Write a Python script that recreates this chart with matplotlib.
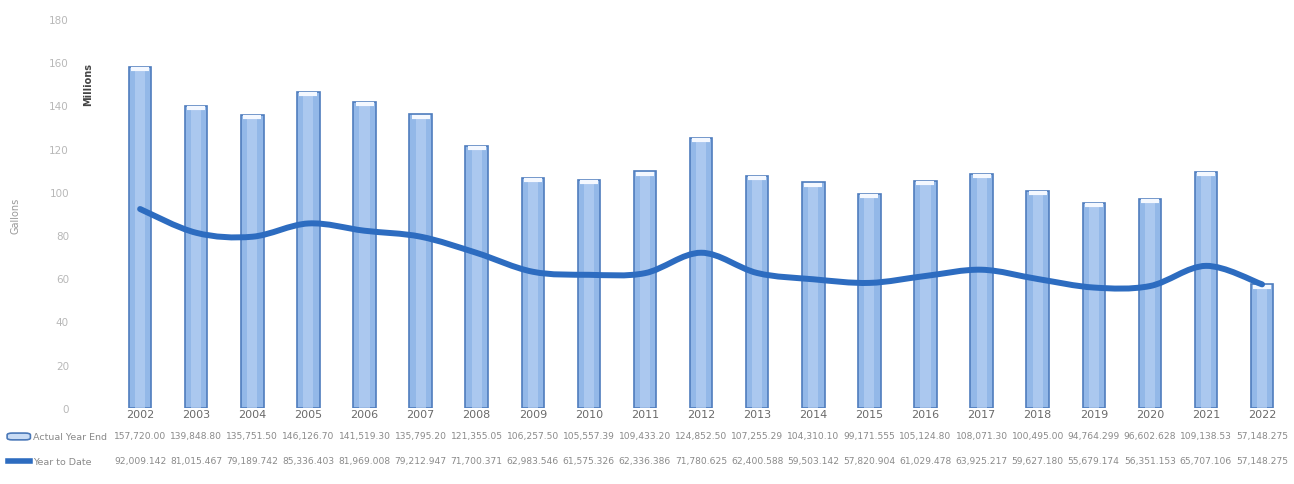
import numpy as np
import matplotlib
matplotlib.use("Agg")
from matplotlib import pyplot as plt
from matplotlib.path import Path
from matplotlib.patches import PathPatch, FancyBboxPatch
from matplotlib.lines import Line2D

years = ["2002", "2003", "2004", "2005", "2006", "2007", "2008", "2009", "2010", "2011",
         "2012", "2013", "2014", "2015", "2016", "2017", "2018", "2019", "2020", "2021", "2022"]

# thousands of gallons
actual_year_end = [157720.00, 139848.80, 135751.50, 146126.70, 141519.30, 135795.20, 121355.05,
                   106257.50, 105557.39, 109433.20, 124852.50, 107255.29, 104310.10, 99171.555,
                   105124.80, 108071.30, 100495.00, 94764.299, 96602.628, 109138.53, 57148.275]
year_to_date = [92009.142, 81015.467, 79189.742, 85336.403, 81969.008, 79212.947, 71700.371,
                62983.546, 61575.326, 62336.386, 71780.625, 62400.588, 59503.142, 57820.904,
                61029.478, 63925.217, 59627.180, 55679.174, 56351.153, 65707.106, 57148.275]

actual_labels = ["157,720.00", "139,848.80", "135,751.50", "146,126.70", "141,519.30", "135,795.20",
                 "121,355.05", "106,257.50", "105,557.39", "109,433.20", "124,852.50", "107,255.29",
                 "104,310.10", "99,171.555", "105,124.80", "108,071.30", "100,495.00", "94,764.299",
                 "96,602.628", "109,138.53", "57,148.275"]
ytd_labels = ["92,009.142", "81,015.467", "79,189.742", "85,336.403", "81,969.008", "79,212.947",
              "71,700.371", "62,983.546", "61,575.326", "62,336.386", "71,780.625", "62,400.588",
              "59,503.142", "57,820.904", "61,029.478", "63,925.217", "59,627.180", "55,679.174",
              "56,351.153", "65,707.106", "57,148.275"]

y_ticks = [0, 20, 40, 60, 80, 100, 120, 140, 160, 180]

BAR_FACE = "#93b8e8"
BAR_EDGE = "#4f7dbd"
LINE_COLOR = "#2d6cc0"
TEXT_GREY = "#8a8a8a"


def smooth_path(x, y):
    # Catmull-Rom style bezier through every point, like a spreadsheet "smoothed line"
    pts = np.column_stack([x, y])
    n = len(pts)
    verts = [pts[0]]
    codes = [Path.MOVETO]
    for i in range(n - 1):
        p0 = pts[i - 1] if i > 0 else pts[i]
        p1 = pts[i]
        p2 = pts[i + 1]
        p3 = pts[i + 2] if i + 2 < n else pts[i + 1]
        c1 = p1 + (p2 - p0) / 6.0
        c2 = p2 - (p3 - p1) / 6.0
        verts += [c1, c2, p2]
        codes += [Path.CURVE4] * 3
    return Path(verts, codes)


def main():
    plt.rcParams["font.family"] = ["DejaVu Sans"]
    fig = plt.figure(figsize=(12.94, 4.85), dpi=100)
    ax = fig.add_axes([0.0866, 0.157, 0.9104, 0.802])

    x = np.arange(len(years))
    actual = np.array(actual_year_end) / 1000.0
    ytd = np.array(year_to_date) / 1000.0

    ax.bar(x, actual, width=0.4, color=BAR_FACE, edgecolor=BAR_EDGE, linewidth=1.2, zorder=2)
    # lighter centre strip gives the bars a rounded look
    ax.bar(x, actual - 1.5, width=0.18, color="#b6d0f2", linewidth=0, zorder=2.5, alpha=0.7)
    ax.scatter(x, actual - 1.0, marker="_", s=170, color="#f4f8ff", linewidths=3, zorder=3)

    ax.add_patch(PathPatch(smooth_path(x, ytd), facecolor="none", edgecolor=LINE_COLOR,
                           linewidth=4.3, capstyle="round", zorder=4))

    ax.set_xlim(-0.5, len(years) - 0.5)
    ax.set_ylim(0, 180)
    ax.set_yticks(y_ticks)
    ax.set_yticklabels([str(v) for v in y_ticks], color="#b8b8b8", fontsize=7.5)
    ax.set_xticks(x)
    ax.set_xticklabels(years, color="#6a6a6a", fontsize=8)
    ax.tick_params(axis="both", length=0)
    ax.tick_params(axis="y", pad=31)
    ax.tick_params(axis="x", pad=1)
    for side in ax.spines.values():
        side.set_visible(False)

    fig.text(0.068, 0.825, "Millions", rotation=90, fontsize=7, color="#444444",
             fontweight="bold", ha="center", va="center")
    fig.text(0.012, 0.555, "Gallons", rotation=90, fontsize=7, color="#999999",
             ha="center", va="center")

    # data table under the chart
    trans = ax.get_xaxis_transform()
    for i in range(len(years)):
        ax.text(x[i], -0.072, actual_labels[i], transform=trans, ha="center", va="center",
                fontsize=6.6, color=TEXT_GREY, clip_on=False)
        ax.text(x[i], -0.136, ytd_labels[i], transform=trans, ha="center", va="center",
                fontsize=6.6, color=TEXT_GREY, clip_on=False)

    fig.patches.append(FancyBboxPatch((0.0065, 0.092), 0.016, 0.012,
                                      boxstyle="round,pad=0.001,rounding_size=0.004",
                                      transform=fig.transFigure, facecolor="#c9dcf5",
                                      edgecolor="#4a78b8", linewidth=1.2))
    fig.lines.append(Line2D([0.006, 0.023], [0.047, 0.047], transform=fig.transFigure,
                            color=LINE_COLOR, linewidth=4.0))
    fig.text(0.0255, 0.098, "Actual Year End", fontsize=6.8, color=TEXT_GREY, va="center")
    fig.text(0.0255, 0.047, "Year to Date", fontsize=6.8, color=TEXT_GREY, va="center")

    fig.savefig("out.png", dpi=100)


if __name__ == "__main__":
    main()
